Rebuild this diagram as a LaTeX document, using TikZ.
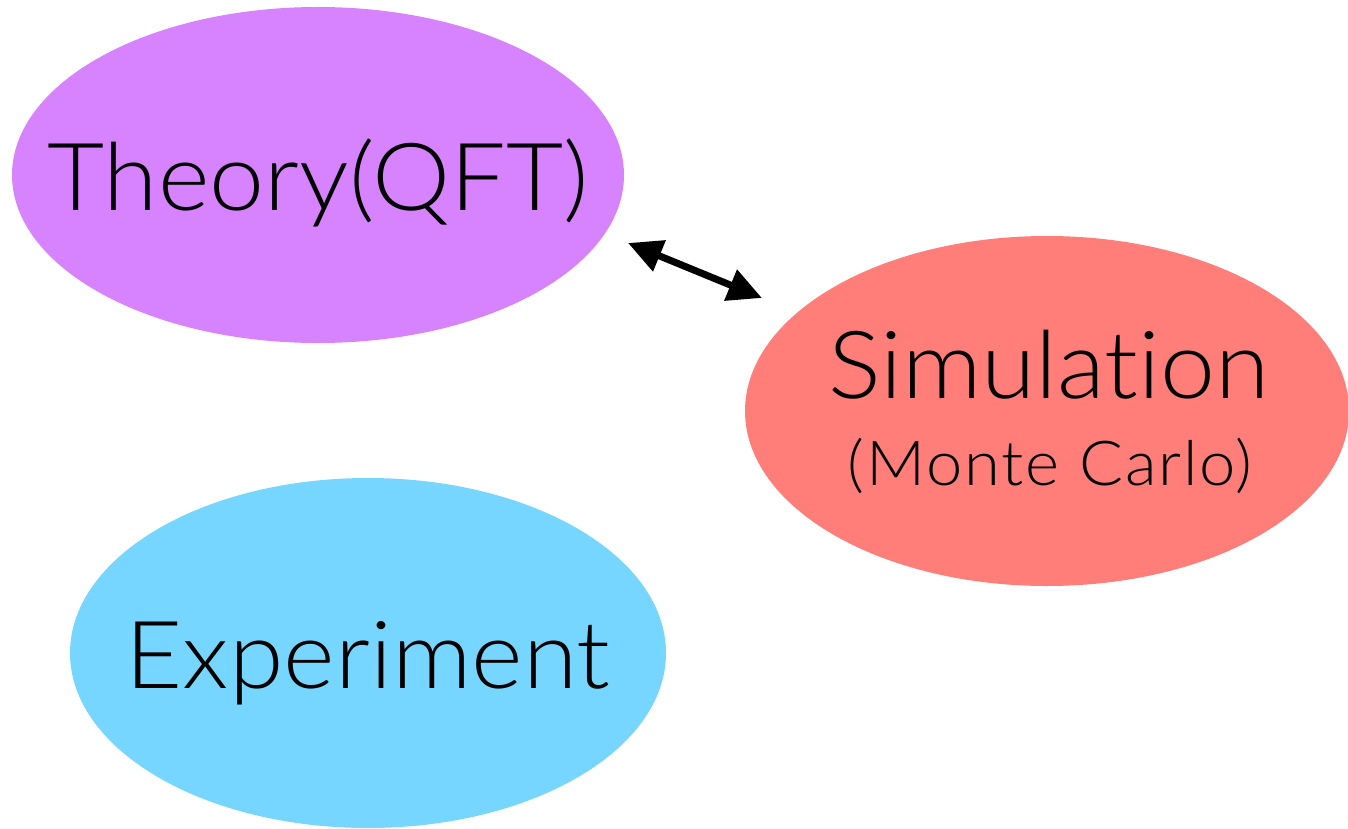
\documentclass[tikz,border=0pt]{standalone}
\usepackage{fontspec}
\setmainfont{Lato}[UprightFont={* Light}, Ligatures=NoCommon, FakeStretch=1.05]
\usetikzlibrary{shapes.geometric,arrows.meta}
\definecolor{lavender}{HTML}{D783FF}
\definecolor{salmon}{HTML}{FF7E79}
\definecolor{sky}{HTML}{76D6FF}
\tikzset{
  big/.style={font=\fontsize{47}{52}\selectfont},
  small/.style={font=\fontsize{31}{36}\selectfont\addfontfeatures{LetterSpace=3}},
  link/.style={line width=3.5pt, {Triangle[length=17pt,width=16pt]}-{Triangle[length=17pt,width=16pt]}}
}
\begin{document}
\begin{tikzpicture}[x=0.5pt,y=-0.5pt]
  \useasboundingbox (0,0) rectangle (1348,829);
  % three ellipses
  \fill[lavender] (318,175) ellipse [x radius=306, y radius=168];
  \fill[salmon] (1047,411) ellipse [x radius=302, y radius=175];
  \fill[sky] (368,653) ellipse [x radius=298, y radius=175];
  \node[big, anchor=base] (theory) at (318,210) {Theory(QFT)};
  \node[big, anchor=base] (sim) at (1049,398) {Simulation};
  \node[small, anchor=base] (mc) at (1050,485) {(Monte Carlo)};
  \node[big, anchor=base] (exp) at (368,688) {Experiment};
  \coordinate (a) at (628,243);
  \coordinate (b) at (762,298);
  \draw[link] (a) -- (b);
\end{tikzpicture}
\end{document}
